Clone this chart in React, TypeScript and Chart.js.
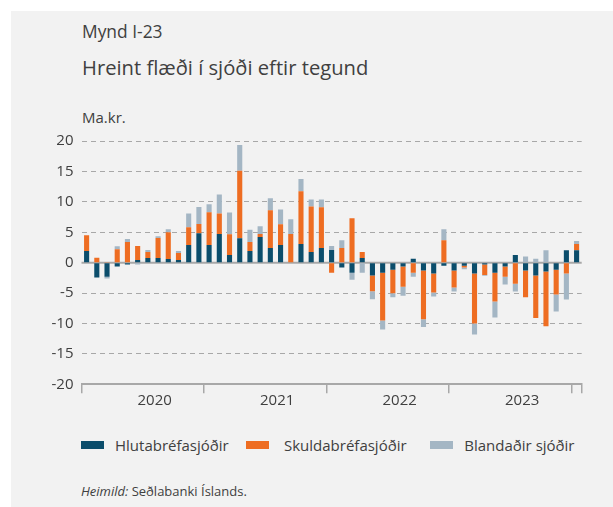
import React, { useEffect, useRef } from "react";
import { Chart, registerables } from "chart.js";

Chart.register(...registerables);

// ---------- data ----------
const months = [
  "2020-01","2020-02","2020-03","2020-04","2020-05","2020-06","2020-07","2020-08","2020-09","2020-10","2020-11","2020-12",
  "2021-01","2021-02","2021-03","2021-04","2021-05","2021-06","2021-07","2021-08","2021-09","2021-10","2021-11","2021-12",
  "2022-01","2022-02","2022-03","2022-04","2022-05","2022-06","2022-07","2022-08","2022-09","2022-10","2022-11","2022-12",
  "2023-01","2023-02","2023-03","2023-04","2023-05","2023-06","2023-07","2023-08","2023-09","2023-10","2023-11","2023-12",
  "2024-01",
];
const yearLabels = ["2020", "2021", "2022", "2023"];

const hlutabref = [
  1.9, -2.45, -2.3, -0.65, -0.3, 0.45, 0.76, 0.76, 0.6, 0.45, 2.9, 4.85,
  2.9, 4.7, 1.25, 4.0, 1.9, 4.2, 2.4, 2.9, -0.1, 3.05, 1.75, 2.4,
  2.1, -0.8, -1.65, 0.76, -2.1, -1.65, -1.15, -0.65, 0.65, -1.3, -1.8, -0.5,
  -1.3, -0.5, -1.8, -0.3, -1.65, -0.65, 1.25, -1.3, -2.1, -1.45, -1.15, 2.05,
  2.05,
];
const skuldabref = [
  2.6, 0.8, 0.1, 2.2, 3.4, 2.3, 1.0, 3.3, 4.4, 1.15, 2.9, 1.5,
  5.4, 3.4, 3.4, 11.1, 1.5, 0.5, 6.2, 3.4, 4.7, 8.7, 7.5, 6.7,
  -1.65, 2.4, 7.3, 1.0, -2.6, -7.85, -3.9, -3.3, -1.65, -8.0, -3.1, 3.7,
  -2.8, -0.3, -8.2, -1.75, -4.75, -1.65, -3.45, -4.4, -7.0, -9.0, -4.1, -1.8,
  1.0,
];
const blandadir = [
  0, 0, -0.3, 0.5, 0.5, -0.3, 0.3, 0.3, 0.5, 0.3, 2.3, 2.8,
  1.3, 3.1, 3.6, 4.25, 2.0, 1.3, 2.0, 2.45, 2.45, 2.0, 1.15, 1.3,
  0.65, 1.3, -1.15, -1.65, -1.3, -1.5, -0.65, -1.5, -0.65, -1.3, -0.65, 1.8,
  -0.65, -0.3, -1.8, -0.1, -2.6, -1.3, -1.3, 1.0, 0.65, 2.05, -2.8, -4.25,
  0.5,
];

const seriesNames = ["Hlutabréfasjóðir", "Skuldabréfasjóðir", "Blandaðir sjóðir"];
const seriesColors = ["#0b4d6b", "#ee6d22", "#a4b6c4"];

const yMin = -20;
const yMax = 20;
const yStep = 5;

// ---------- styles ----------
const FONT = "'Open Sans', 'Noto Sans', sans-serif";
const TEXT = "#404040";
const GRID = "#a8a8a8";

const zeroLinePlugin = {
  id: "zeroLine",
  beforeDatasetsDraw(chart: any) {
    const { ctx, chartArea, scales } = chart;
    const y = scales.y.getPixelForValue(0);
    ctx.save();
    ctx.strokeStyle = GRID;
    ctx.lineWidth = 2;
    ctx.beginPath();
    ctx.moveTo(chartArea.left, y);
    ctx.lineTo(chartArea.right, y);
    ctx.stroke();
    ctx.restore();
  },
};

function BarChart() {
  const ref = useRef<HTMLCanvasElement | null>(null);
  useEffect(() => {
    if (!ref.current) return;
    const data = [hlutabref, skuldabref, blandadir];
    const chart = new Chart(ref.current, {
      type: "bar",
      data: {
        labels: months,
        datasets: data.map((d, i) => ({
          label: seriesNames[i],
          data: d,
          backgroundColor: seriesColors[i],
          borderWidth: 0,
          categoryPercentage: 1,
          barPercentage: 0.5,
        })),
      },
      plugins: [zeroLinePlugin],
      options: {
        responsive: false,
        animation: false,
        events: [],
        layout: { padding: { top: 0, right: 13.3, bottom: 0, left: 0 } },
        plugins: {
          legend: { display: false },
          tooltip: { enabled: false },
          title: { display: false },
        },
        scales: {
          x: {
            stacked: true,
            offset: true,
            afterFit: (s: any) => {
              s.height = 35.7;
            },
            grid: {
              offset: true,
              drawOnChartArea: false,
              drawTicks: true,
              tickLength: 9,
              lineWidth: 1.5,
              color: (c: any) => {
                if (c.index === undefined) return GRID;
                return c.index % 12 === 0 ? GRID : "rgba(0,0,0,0)";
              },
            },
            border: { display: true, color: GRID, width: 2 },
            ticks: {
              autoSkip: false,
              maxRotation: 0,
              minRotation: 0,
              padding: -2,
              labelOffset: 17,
              color: TEXT,
              font: { family: FONT, size: 15 },
              callback: (_v: any, i: number) =>
                i % 12 === 5 && i < 48 ? yearLabels[Math.floor(i / 12)] : "",
            },
          },
          y: {
            stacked: true,
            min: yMin,
            max: yMax,
            afterFit: (s: any) => {
              s.width = 61.5;
            },
            grid: {
              drawTicks: false,
              lineWidth: 1,
              color: (c: any) =>
                c.tick && (c.tick.value === 0 || c.tick.value === yMin) ? "rgba(0,0,0,0)" : GRID,
            },
            border: { display: false, dash: [5, 4] },
            ticks: {
              stepSize: yStep,
              padding: 8,
              color: TEXT,
              font: { family: FONT, size: 15 },
            },
          },
        },
      },
    } as any);
    return () => chart.destroy();
  }, []);
  return (
    <canvas
      ref={ref}
      width={575}
      height={296}
      style={{ position: "absolute", left: 20, top: 124, width: 575, height: 296 }}
    />
  );
}

const textBase: React.CSSProperties = {
  position: "absolute",
  fontFamily: FONT,
  color: TEXT,
  lineHeight: 1,
  whiteSpace: "nowrap",
  margin: 0,
};

export default function App() {
  const legendX = [
    { sq: 81, tx: 115 },
    { sq: 245.7, tx: 284 },
    { sq: 430, tx: 464.3 },
  ];
  return (
    <div style={{ position: "absolute", left: 0, top: 0, width: 613, height: 507, overflow: "hidden", background: "#ffffff" }}>
      <div style={{ position: "absolute", left: 11, top: 11, width: 602, height: 496, background: "#f2f2f2" }} />
      <div style={{ ...textBase, left: 82, top: 23.2, fontSize: 17.4 }}>Mynd I-23</div>
      <div style={{ ...textBase, left: 82, top: 57.2, fontSize: 20.2 }}>Hreint flæði í sjóði eftir tegund</div>
      <div style={{ ...textBase, left: 82, top: 110, fontSize: 15 }}>Ma.kr.</div>
      <BarChart />
      {seriesNames.map((n, i) => (
        <React.Fragment key={n}>
          <div
            style={{
              position: "absolute",
              left: legendX[i].sq,
              top: 440.7,
              width: 23,
              height: 8,
              background: seriesColors[i],
            }}
          />
          <div style={{ ...textBase, left: legendX[i].tx, top: 438.4, fontSize: 15 }}>{n}</div>
        </React.Fragment>
      ))}
      <div style={{ ...textBase, left: 81, top: 484.5, fontSize: 13 }}>
        <i>Heimild:</i> Seðlabanki Íslands.
      </div>
    </div>
  );
}
